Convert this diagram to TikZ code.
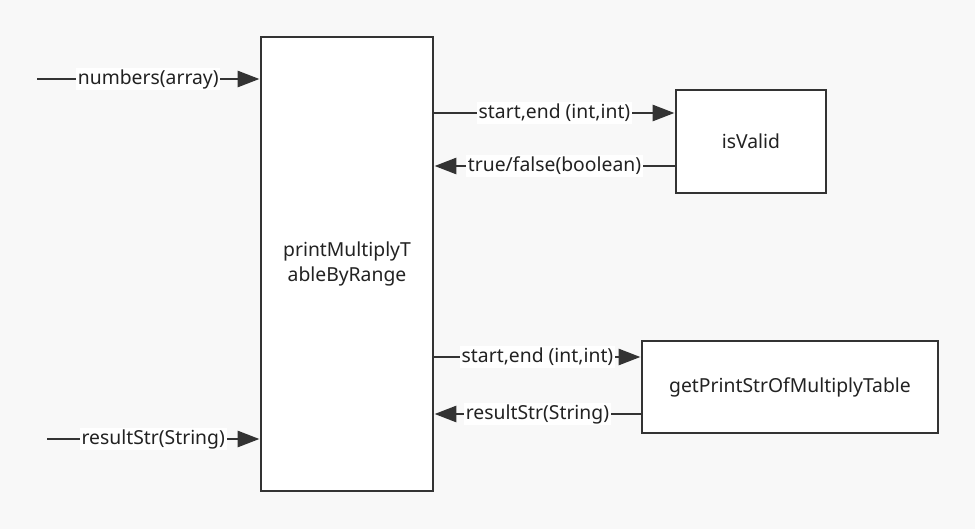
\documentclass[tikz,border=0pt]{standalone}
\usepackage{fontspec}
\setmainfont{Noto Sans}
\usepackage{xcolor}
\usepackage{tikz}
\usetikzlibrary{arrows.meta,positioning}
\definecolor{canvas}{HTML}{F8F8F8}
\definecolor{linedark}{HTML}{333333}
\definecolor{textdark}{HTML}{222222}
\tikzset{
  func/.style={draw=linedark, line width=1.7pt, fill=white, align=center, inner sep=4pt, text=textdark},
  arrow/.style={-{Triangle[length=4.4mm, width=3.2mm]}, line width=1.7pt, draw=linedark},
  lbl/.style={fill=white, inner sep=1pt, text=textdark}
}

\begin{document}
\begin{tikzpicture}[font=\fontsize{11}{14.5}\selectfont]
  \fill[canvas] (0,0) rectangle (19.5,10.58);
  \useasboundingbox (0,0) rectangle (19.5,10.58);

  \node[func, minimum width=3.44cm, minimum height=9.08cm] (main) at (6.94,5.30) {printMultiplyT\\ableByRange};
  \node[func, minimum width=3.0cm, minimum height=2.06cm] (valid) at (15.02,7.75) {isValid};
  \node[func, minimum width=5.92cm, minimum height=1.84cm] (table) at (15.80,2.84) {getPrintStrOfMultiplyTable};

  \coordinate (numin) at (0.74,9.00);
  \coordinate (resin) at (0.94,1.80);

  \draw[arrow] (numin) -- (main.west |- numin) node[lbl, midway] {numbers(array)};
  \draw[arrow] (resin) -- (main.west |- resin) node[lbl, midway] {resultStr(String)};

  \draw[arrow] (main.east |- 0,8.32) -- (valid.west |- 0,8.32) node[lbl, midway] {start,end (int,int)};
  \draw[arrow] (valid.west |- 0,7.26) -- (main.east |- 0,7.26) node[lbl, midway] {true/false(boolean)};

  \draw[arrow] (main.east |- 0,3.44) -- (table.west |- 0,3.44) node[lbl, midway] {start,end (int,int)};
  \draw[arrow] (table.west |- 0,2.30) -- (main.east |- 0,2.30) node[lbl, midway] {resultStr(String)};
\end{tikzpicture}
\end{document}
